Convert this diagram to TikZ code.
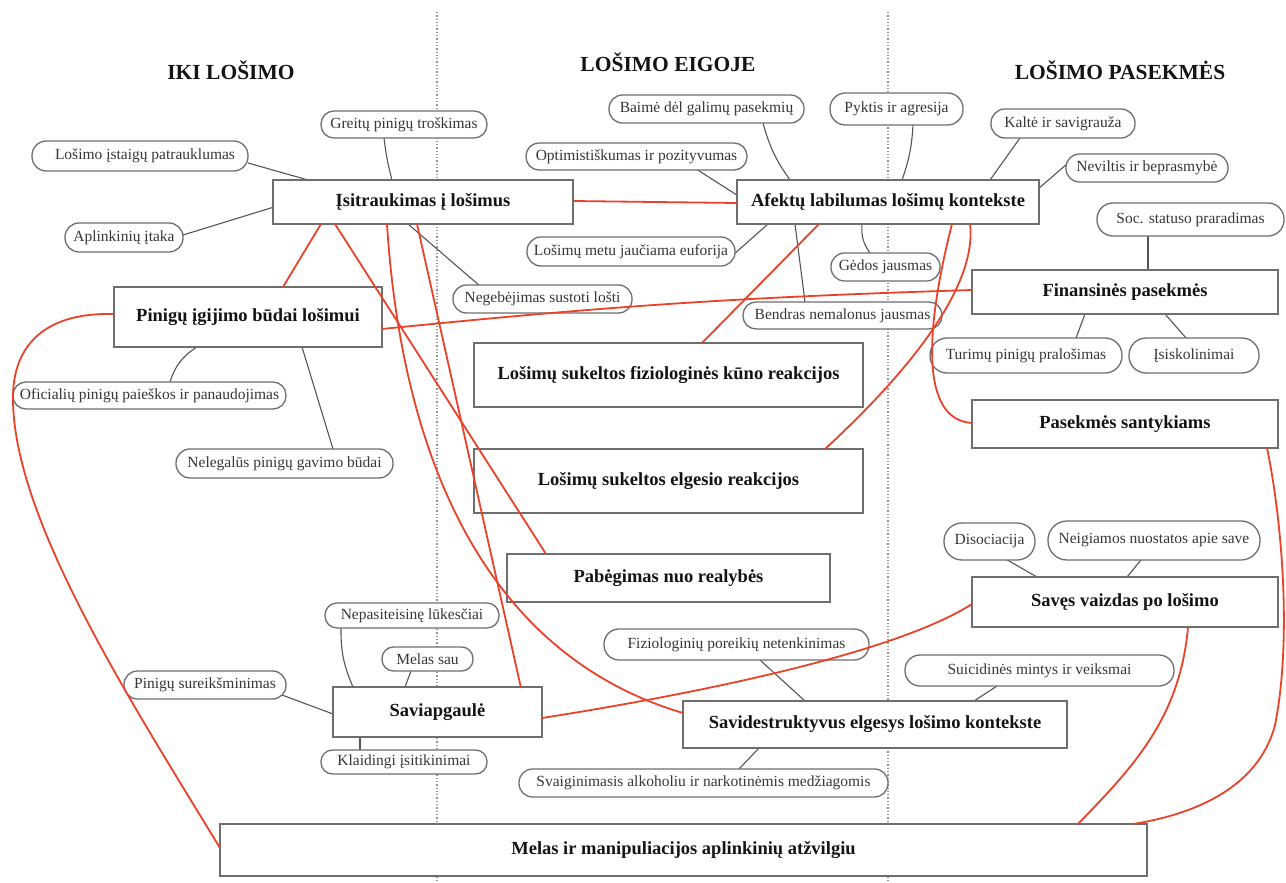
\documentclass[tikz,border=0pt]{standalone}
\usepackage{fontspec}
\setmainfont{Liberation Serif}
\usetikzlibrary{calc}
\definecolor{redl}{RGB}{233,66,40}
\definecolor{glinec}{RGB}{85,85,85}
\definecolor{bordergray}{RGB}{110,110,110}
\definecolor{ovtext}{RGB}{55,55,55}
\definecolor{bxtext}{RGB}{20,20,20}
\pgfdeclarelayer{bg}
\pgfsetlayers{bg,main}
\tikzset{
 box/.style={draw=bordergray, line width=1.4pt, fill=white, inner sep=0pt, text=bxtext, font=\bfseries\fontsize{18.5}{20}\selectfont},
 oval/.style={draw=bordergray, line width=1.3pt, fill=white, inner sep=0pt, text=ovtext, font=\fontsize{15.5}{17}\selectfont, rounded corners=#1},
 oval/.default=13pt,
 hdr/.style={inner sep=0pt, text=bxtext, font=\bfseries\fontsize{21.5}{24}\selectfont},
 conn/.style={draw=glinec, line width=1.1pt},
 rconn/.style={draw=redl, line width=1.8pt},
 sepline/.style={draw=gray!85, line width=1.3pt, dotted},
}
\begin{document}
\begin{tikzpicture}[x=1pt,y=-1pt]
\useasboundingbox (0,0) rectangle (1286,883);
\begin{pgfonlayer}{bg}
\fill[white] (0,0) rectangle (1286,883);
\end{pgfonlayer}

% headers
\node[hdr] (h1) at (231,70) {IKI LOŠIMO};
\node[hdr] (h2) at (668,62) {LOŠIMO EIGOJE};
\node[hdr] (h3) at (1120,70) {LOŠIMO PASEKMĖS};

% separators
\coordinate (s1t) at (437,12);
\coordinate (s1b) at (437,883);
\coordinate (s2t) at (888,12);
\coordinate (s2b) at (888,883);

% main boxes
\node[box, minimum width=300, minimum height=44] (isit) at (423,202) {Įsitraukimas į lošimus};
\node[box, minimum width=302, minimum height=44] (afek) at (888,202) {Afektų labilumas lošimų kontekste};
\node[box, minimum width=268, minimum height=60] (pin) at (248,317) {Pinigų įgijimo būdai lošimui};
\node[box, minimum width=306, minimum height=44] (fin) at (1125,292) {Finansinės pasekmės};
\node[box, minimum width=389, minimum height=64] (fiz) at (668.5,375) {Lošimų sukeltos fiziologinės kūno reakcijos};
\node[box, minimum width=389, minimum height=64] (elg) at (668.5,481) {Lošimų sukeltos elgesio reakcijos};
\node[box, minimum width=323, minimum height=48] (pab) at (668.5,578) {Pabėgimas nuo realybės};
\node[box, minimum width=306, minimum height=48] (sant) at (1125,424) {Pasekmės santykiams};
\node[box, minimum width=306, minimum height=50] (sav) at (1125,602) {Savęs vaizdas po lošimo};
\node[box, minimum width=209, minimum height=50] (sap) at (437.5,712) {Saviapgaulė};
\node[box, minimum width=384, minimum height=47] (sdes) at (875,724.5) {Savidestruktyvus elgesys lošimo kontekste};
\node[box, minimum width=927, minimum height=52] (melas) at (683.5,850) {Melas ir manipuliacijos aplinkinių atžvilgiu};

% ovals
\node[oval=13pt, minimum width=166, minimum height=27] (greit) at (404,124.5) {Greitų pinigų troškimas};
\node[oval=14.5pt, minimum width=216, minimum height=30] (istaig) at (140,156) {\hspace*{10pt}Lošimo įstaigų patrauklumas};
\node[oval=14pt, minimum width=118, minimum height=29] (aplink) at (124,237.5) {Aplinkinių įtaka};
\node[oval=13.5pt, minimum width=195, minimum height=28] (baime) at (706.5,109) {Baimė dėl galimų pasekmių};
\node[oval=15.5pt, minimum width=133, minimum height=32] (pyktis) at (896.5,109) {Pyktis ir agresija};
\node[oval=14pt, minimum width=144, minimum height=29] (kalte) at (1063,123.5) {Kaltė ir savigrauža};
\node[oval=13.5pt, minimum width=162, minimum height=28] (nevilt) at (1147,168) {Neviltis ir beprasmybė};
\node[oval=13pt, minimum width=221, minimum height=27] (optim) at (636.5,156.5) {Optimistiškumas ir pozityvumas};
\node[oval=14pt, minimum width=208, minimum height=29] (euf) at (631,251.5) {Lošimų metu jaučiama euforija};
\node[oval=13.5pt, minimum width=179, minimum height=28] (negeb) at (542.5,299) {Negebėjimas sustoti lošti};
\node[oval=13.5pt, minimum width=109, minimum height=28] (gedos) at (885.5,267) {Gėdos jausmas};
\node[oval=13pt, minimum width=199, minimum height=27] (bendr) at (842.5,315.5) {Bendras nemalonus jausmas};
\node[oval=16pt, minimum width=187, minimum height=33] (soc) at (1190.5,219.5) {Soc. statuso praradimas};
\node[oval=17pt, minimum width=192, minimum height=35] (turim) at (1026,355.5) {Turimų pinigų pralošimas};
\node[oval=17pt, minimum width=130, minimum height=35] (isisk) at (1194,355.5) {Įsiskolinimai};
\node[oval=13pt, minimum width=273, minimum height=27] (ofic) at (149.5,395.5) {Oficialių pinigų paieškos ir panaudojimas};
\node[oval=14pt, minimum width=217, minimum height=29] (neleg) at (284.5,463.5) {Nelegalūs pinigų gavimo būdai};
\node[oval=18pt, minimum width=91, minimum height=37] (disoc) at (989.5,541.5) {Disociacija};
\node[oval=19pt, minimum width=212, minimum height=39] (neig) at (1154,540.5) {Neigiamos nuostatos apie save};
\node[oval=12pt, minimum width=174, minimum height=25] (nepas) at (412,615.5) {Nepasiteisinę lūkesčiai};
\node[oval=11.5pt, minimum width=91, minimum height=24] (melsau) at (427.5,659) {Melas sau};
\node[oval=13.5pt, minimum width=162, minimum height=28] (pinsur) at (205,685) {Pinigų sureikšminimas};
\node[oval=11.5pt, minimum width=166, minimum height=24] (klaid) at (404,762) {Klaidingi įsitikinimai};
\node[oval=15pt, minimum width=265, minimum height=31] (fiziop) at (736.5,644.5) {Fiziologinių poreikių netenkinimas};
\node[oval=15pt, minimum width=269, minimum height=31] (suic) at (1039.5,670.5) {Suicidinės mintys ir veiksmai};
\node[oval=13.5pt, minimum width=369, minimum height=28] (svaig) at (703.5,783) {Svaiginimasis alkoholiu ir narkotinėmis medžiagomis};

\begin{pgfonlayer}{bg}
\draw[sepline] (s1t) -- (s1b);
\draw[sepline] (s2t) -- (s2b);
% gray connectors
\draw[conn] ($(istaig)+(108,7)$) -- ($(isit)+(-115,-22)$);
\draw[conn] ($(aplink)+(59,-2.5)$) -- ($(isit)+(-149,5)$);
\draw[conn] ($(greit)+(-20,13.5)$) to[bend right=4] ($(isit)+(-31,-22)$);
\draw[conn] ($(isit)+(-15,22)$) -- ($(negeb)+(-62.5,-13)$);
\draw[conn] ($(optim)+(56.5,10.5)$) -- ($(afek)+(-148,-5)$);
\draw[conn] ($(baime)+(56.5,14)$) to[bend right=10] ($(afek)+(-98,-22)$);
\draw[conn] ($(pyktis)+(16.5,16)$) to[bend left=8] ($(afek)+(14,-22)$);
\draw[conn] ($(kalte)+(-43,14.5)$) -- ($(afek)+(102,-22)$);
\draw[conn] ($(nevilt)+(-80,-4)$) -- ($(afek)+(150,-13)$);
\draw[conn] ($(euf)+(102,3.5)$) -- ($(afek)+(-120,22)$);
\draw[conn] ($(afek)+(-93,22)$) -- ($(bendr)+(-37.5,-13.5)$);
\draw[conn] ($(afek)+(-26,22)$) to[bend right=20] ($(gedos)+(-15.5,-14)$);
\draw[conn] ($(soc)+(-42.5,16.5)$) -- ($(fin)+(23,-22)$);
\draw[conn] ($(fin)+(-40,22)$) -- ($(turim)+(50,-17.5)$);
\draw[conn] ($(fin)+(40,22)$) -- ($(isisk)+(-8,-17.5)$);
\draw[conn] ($(pin)+(-51,30)$) to[bend right=20] ($(ofic)+(20.5,-13.5)$);
\draw[conn] ($(pin)+(54,30)$) -- ($(neleg)+(48.5,-14.5)$);
\draw[conn] ($(disoc)+(12.5,15.5)$) -- ($(sav)+(-88,-25)$);
\draw[conn] ($(neig)+(-13,19.5)$) -- ($(sav)+(2,-25)$);
\draw[conn] ($(nepas)+(-71,12.5)$) to[bend right=12] ($(sap)+(-84.5,-25)$);
\draw[conn] ($(melsau)+(-16.5,12)$) -- ($(sap)+(-32.5,-25)$);
\draw[conn] ($(pinsur)+(77,10)$) -- ($(sap)+(-104.5,2)$);
\draw[conn] ($(sap)+(-77.5,25)$) -- ($(klaid)+(-44,-12)$);
\draw[conn] ($(fiziop)+(23.5,15.5)$) -- ($(sdes)+(-70,-23.5)$);
\draw[conn] ($(suic)+(-42.5,15.5)$) -- ($(sdes)+(99,-23.5)$);
\draw[conn] ($(sdes)+(-116,23.5)$) -- ($(svaig)+(35.5,-14)$);
\end{pgfonlayer}

% red connectors
\draw[rconn] ($(isit)+(150,-1)$) -- ($(afek)+(-151,1)$);
\draw[rconn] ($(isit)+(-102,22)$) -- ($(pin)+(35,-30)$);
\draw[rconn] ($(isit)+(-88,22)$) -- ($(pab)+(-122.5,-24)$);
\draw[rconn] ($(isit)+(-36,22)$) .. controls (400,430) and (470,650) .. ($(sdes)+(-192,-11.5)$);
\draw[rconn] ($(isit)+(-6,22)$) -- ($(sap)+(83.5,-24)$);
\draw[rconn] ($(pin)+(134,12)$) to[bend left=2] ($(fin)+(-153,-2)$);
\draw[rconn] ($(pin)+(-134,-3)$) .. controls (40,312) and (12,350) .. (13,400) .. controls (14,520) and (130,700) .. ($(melas)+(-463.5,-2)$);
\draw[rconn] ($(afek)+(-69,22)$) -- ($(fiz)+(33.5,-32)$);
\draw[rconn] ($(afek)+(64,22)$) .. controls (925,330) and (920,420) .. ($(sant)+(-153,-1)$);
\draw[rconn] ($(afek)+(82,22)$) .. controls (978,290) and (900,380) .. ($(elg)+(156.5,-32)$);
\draw[rconn] ($(sant)+(142,24)$) .. controls (1282,520) and (1292,640) .. (1275,725) .. controls (1258,790) and (1190,815) .. ($(melas)+(449.5,-26)$);
\draw[rconn] ($(sav)+(63,25)$) .. controls (1180,720) and (1130,770) .. ($(melas)+(394.5,-26)$);
\draw[rconn] ($(sav)+(-153,2)$) .. controls (900,650) and (720,690) .. ($(sap)+(104.5,6)$);
\end{tikzpicture}
\end{document}
